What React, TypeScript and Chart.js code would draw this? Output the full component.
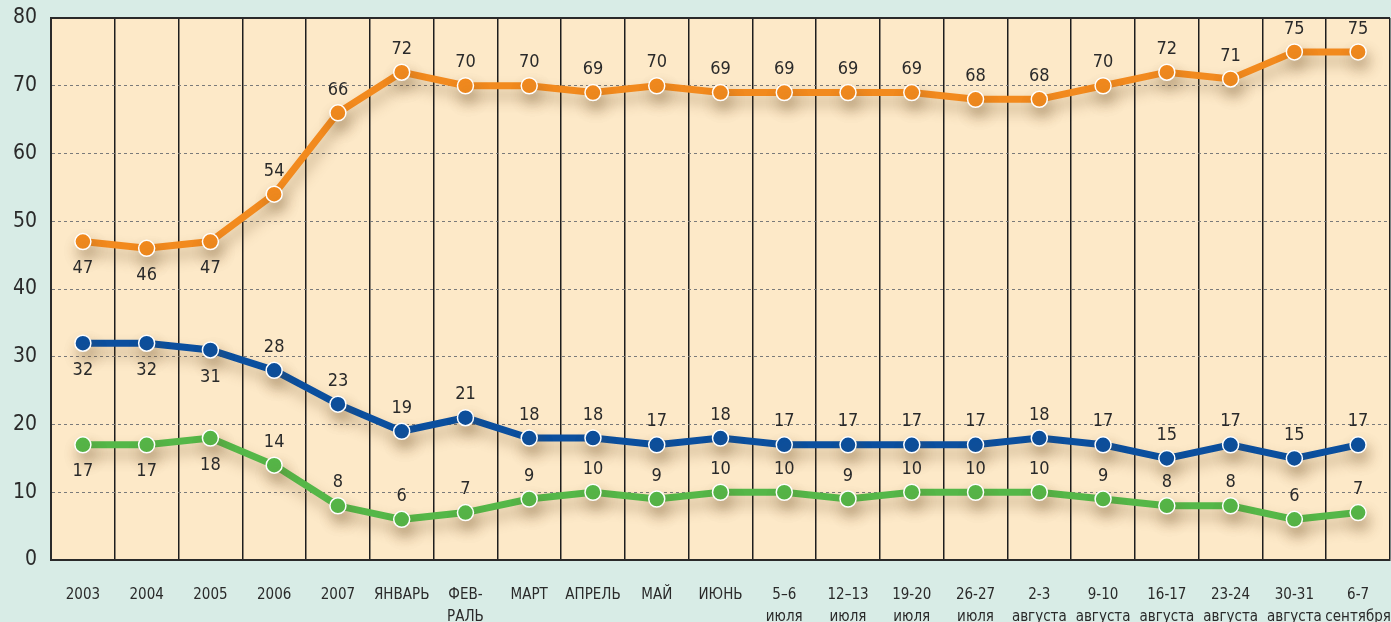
import React, { useEffect, useRef } from "react";
import { Chart, registerables } from "chart.js";

Chart.register(...registerables);

const categories: (string | string[])[] = [
  "2003", "2004", "2005", "2006", "2007", "ЯНВАРЬ", ["ФЕВ-", "РАЛЬ"], "МАРТ", "АПРЕЛЬ", "МАЙ", "ИЮНЬ",
  ["5–6", "июля"], ["12–13", "июля"], ["19-20", "июля"], ["26-27", "июля"],
  ["2-3", "августа"], ["9-10", "августа"], ["16-17", "августа"], ["23-24", "августа"],
  ["30-31", "августа"], ["6-7", "сентября"],
];

const orangeValues = [47, 46, 47, 54, 66, 72, 70, 70, 69, 70, 69, 69, 69, 69, 68, 68, 70, 72, 71, 75, 75];
const blueValues = [32, 32, 31, 28, 23, 19, 21, 18, 18, 17, 18, 17, 17, 17, 17, 18, 17, 15, 17, 15, 17];
const greenValues = [17, 17, 18, 14, 8, 6, 7, 9, 10, 9, 10, 10, 9, 10, 10, 10, 9, 8, 8, 6, 7];

// label placement: true = below the point
const orangeBelow = [true, true, true];
const blueBelow = [true, true, true];
const greenBelow = [true, true, true];

const yTicks = [0, 10, 20, 30, 40, 50, 60, 70, 80];

const FONT = "'Liberation Sans Narrow', 'DejaVu Sans Condensed', 'Arial Narrow', sans-serif";

const bgPlugin = {
  id: "bgPlugin",
  beforeDraw(chart: any) {
    const { ctx, chartArea } = chart;
    ctx.save();
    ctx.fillStyle = "#fde9c8";
    ctx.fillRect(chartArea.left, chartArea.top, chartArea.right - chartArea.left, chartArea.bottom - chartArea.top);
    ctx.restore();
  },
  afterDraw(chart: any) {
    const { ctx, chartArea } = chart;
    ctx.save();
    ctx.strokeStyle = "#2a2a2a";
    ctx.lineWidth = 2;
    ctx.beginPath();
    ctx.moveTo(chartArea.left, chartArea.top);
    ctx.lineTo(chartArea.right, chartArea.top);
    ctx.stroke();
    ctx.restore();
  },
};

const shadowPlugin = {
  id: "shadowPlugin",
  beforeDatasetsDraw(chart: any) {
    const ctx = chart.ctx;
    ctx.save();
    ctx.shadowColor = "rgba(110, 80, 40, 0.38)";
    ctx.shadowBlur = 14;
    ctx.shadowOffsetX = 3;
    ctx.shadowOffsetY = 9;
  },
  afterDatasetsDraw(chart: any) {
    chart.ctx.restore();
  },
};

const labelPlugin = {
  id: "labelPlugin",
  afterDatasetsDraw(chart: any) {
    const ctx = chart.ctx;
    ctx.save();
    ctx.font = `18px ${FONT}`;
    ctx.fillStyle = "#2a2a2a";
    ctx.textAlign = "center";
    ctx.textBaseline = "middle";
    chart.data.datasets.forEach((ds: any, i: number) => {
      const meta = chart.getDatasetMeta(i);
      const below: boolean[] = ds.labelBelow || [];
      meta.data.forEach((pt: any, j: number) => {
        const v = ds.data[j];
        const y = below[j] ? pt.y + 27 : pt.y - 23;
        ctx.fillText(String(v), pt.x, y);
      });
    });
    ctx.restore();
  },
};

export default function App() {
  const canvasRef = useRef<HTMLCanvasElement | null>(null);

  useEffect(() => {
    document.body.style.margin = "0";
    const canvas = canvasRef.current;
    if (!canvas) return;
    const mk = (label: string, data: number[], color: string, below: boolean[]) => ({
      label,
      data,
      borderColor: color,
      backgroundColor: color,
      pointBackgroundColor: color,
      pointBorderColor: "#ffffff",
      pointBorderWidth: 1.5,
      pointRadius: 8,
      borderWidth: 7,
      tension: 0,
      labelBelow: below,
    });
    const chart = new Chart(canvas, {
      type: "line",
      data: {
        labels: categories,
        datasets: [
          mk("orange", orangeValues, "#f28a1e", orangeBelow),
          mk("blue", blueValues, "#0b4f9e", blueBelow),
          mk("green", greenValues, "#55b748", greenBelow),
        ] as any,
      },
      options: {
        animation: false,
        responsive: false,
        maintainAspectRatio: false,
        layout: { autoPadding: false, padding: { top: 0, right: 1, left: 0, bottom: 0 } },
        plugins: {
          legend: { display: false },
          tooltip: { enabled: false },
        },
        scales: {
          x: {
            type: "category",
            offset: true,
            grid: {
              offset: true,
              color: (c: any) => (c.index >= categories.length ? "rgba(0,0,0,0)" : "#1e1e1e"),
              lineWidth: 1.5,
              drawTicks: false,
            },
            border: { color: "#2a2a2a", width: 2 },
            ticks: {
              color: "#2a2a2a",
              font: { family: FONT, size: 15, lineHeight: 1.45 },
              padding: 24,
              maxRotation: 0,
              autoSkip: false,
            },
            afterFit(scale: any) {
              scale.height = 62;
              scale.paddingLeft = 0;
              scale.paddingRight = 0;
            },
          },
          y: {
            min: 0,
            max: 80,
            afterBuildTicks(scale: any) {
              scale.ticks = yTicks.map((v) => ({ value: v }));
            },
            grid: {
              color: (c: any) => (c.tick && (c.tick.value === 0 || c.tick.value === 80) ? "rgba(0,0,0,0)" : "#7a7a7a"),
              lineWidth: 1,
              drawTicks: false,
            },
            border: { color: "#2a2a2a", width: 2, dash: [3, 3] as any },
            ticks: {
              color: "#2a2a2a",
              font: { family: FONT, size: 21 },
              padding: 14,
            },
            afterFit(scale: any) {
              scale.width = 51;
              scale.paddingTop = 18;
              scale.paddingBottom = 0;
            },
          },
        },
      } as any,
      plugins: [bgPlugin, shadowPlugin, labelPlugin],
    });
    return () => chart.destroy();
  }, []);

  return (
    <div style={{ position: "fixed", left: 0, top: 0, width: 1391, height: 622, overflow: "hidden", background: "#d8ece6" }}>
      <canvas ref={canvasRef} width={1391} height={622} style={{ display: "block" }} />
    </div>
  );
}
